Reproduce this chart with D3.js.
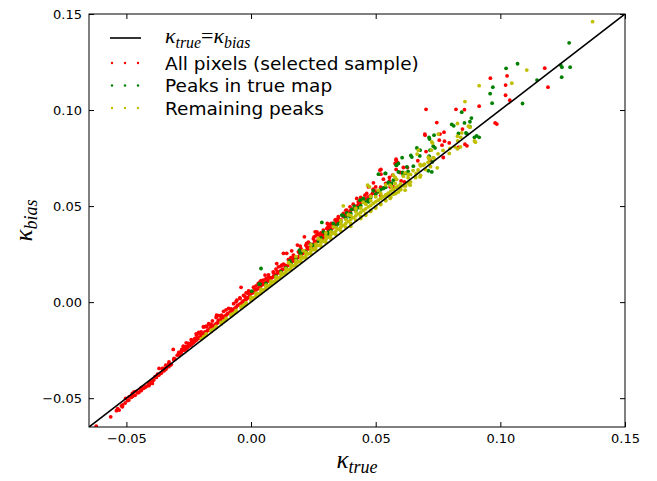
<!DOCTYPE html>
<html>
<head>
<meta charset="utf-8">
<script src="https://cdn.jsdelivr.net/npm/d3@7"></script>
<style>
  body { margin: 0; background: #fff; }
  text { font-family: "DejaVu Sans", sans-serif; }
</style>
</head>
<body>
<svg id="chart" width="657" height="481"></svg>
<script>
// data: [kappa_true, kappa_bias]
const redPoints = [
  [-0.0621,-0.0645],[-0.0563,-0.0597],[-0.0529,-0.0562],[-0.0516,-0.0545],[-0.0503,-0.0501],[-0.0489,-0.0493],
  [-0.0476,-0.0475],[-0.0469,-0.0467],[-0.0436,-0.0449],[-0.0422,-0.0441],[-0.0409,-0.0432],[-0.0396,-0.0423],
  [-0.0369,-0.0345],[-0.0309,-0.0293],[-0.0296,-0.0276],[-0.0282,-0.0259],[-0.0269,-0.0241],[-0.0256,-0.0233],
  [-0.054,-0.0565],[-0.052,-0.054],[-0.0505,-0.0525],[-0.049,-0.051],[-0.048,-0.0495],[-0.0465,-0.0485],
  [-0.045,-0.047],[-0.044,-0.046],[-0.043,-0.0448],[-0.042,-0.0437],[-0.041,-0.0425],[-0.040,-0.0415],
  [-0.039,-0.0405],[-0.038,-0.0392],[-0.037,-0.038],[-0.036,-0.037],[-0.035,-0.0358],[-0.034,-0.0347],
  [-0.033,-0.0336],[-0.032,-0.0325],[-0.046,-0.0465],[-0.044,-0.0445],[-0.0375,-0.0375],[-0.035,-0.0345],
  [-0.033,-0.032],[-0.031,-0.030],[-0.041,-0.0435],[-0.0395,-0.041],[-0.0385,-0.0388],
  [-0.0329,-0.0311],[-0.0342,-0.0328],[-0.0356,-0.0345],[-0.0250,-0.0215],[-0.0262,-0.0232],[-0.0275,-0.0248],[-0.029,-0.0262],
  [-0.0312,-0.0246],[-0.0278,-0.0246],[-0.0272,-0.0229],[-0.0238,-0.0207],[-0.0231,-0.0198],[-0.0225,-0.0189],
  [-0.0218,-0.0172],[-0.0205,-0.0163],[-0.0185,-0.0155],[-0.0191,-0.0129],[-0.0178,-0.0129],[-0.0164,-0.0120],
  [-0.0138,-0.0068],[-0.0131,-0.0094],[-0.0124,-0.0094],[-0.0111,-0.0085],[-0.0118,-0.0068],[-0.0057,0.0010],
  [-0.0044,0.0019],[-0.0024,0.0028],[-0.0011,0.0045],[-0.0004,0.0054],[-0.0040,0.0077],
  [-0.029,-0.0275],[-0.028,-0.0262],[-0.027,-0.025],[-0.026,-0.0243],[-0.025,-0.0228],[-0.024,-0.0222],
  [-0.023,-0.021],[-0.022,-0.0198],[-0.021,-0.0188],[-0.020,-0.0176],[-0.019,-0.0165],[-0.018,-0.0158],
  [-0.017,-0.0145],[-0.016,-0.0135],[-0.015,-0.0122],[-0.014,-0.0112],[-0.013,-0.0102],[-0.012,-0.009],
  [-0.011,-0.0078],[-0.010,-0.0068],[-0.009,-0.0058],[-0.008,-0.0048],[-0.007,-0.0038],[-0.006,-0.0027],
  [-0.005,-0.0016],[-0.004,-0.0006],[-0.003,0.0006],[-0.002,0.0014],[-0.001,0.0025],[-0.0255,-0.0235],
  [-0.0215,-0.019],[-0.0175,-0.0148],[-0.0135,-0.0108],[-0.0095,-0.006],[-0.0055,-0.0018],[-0.0015,0.002],
  [-0.0535,-0.0555],[-0.0515,-0.0535],[-0.0495,-0.0512],[-0.0475,-0.049],[-0.0455,-0.0472],[-0.0445,-0.0455],
  [-0.0425,-0.0442],[-0.0405,-0.0418],[-0.0365,-0.0372],[-0.0345,-0.0352],[-0.0325,-0.0328],[-0.0305,-0.0296],
  [-0.0285,-0.0270],[-0.0265,-0.0248],[-0.0245,-0.0226],[-0.0235,-0.0214],[-0.0225,-0.0203],[-0.0205,-0.0182],
  [-0.0195,-0.017],[-0.0185,-0.0162],[-0.0165,-0.0138],[-0.0155,-0.0128],[-0.0145,-0.0118],[-0.0125,-0.0098],
  [-0.0115,-0.0085],[-0.0105,-0.0073],[-0.0085,-0.0052],[-0.0075,-0.0042],[-0.0065,-0.0032],[-0.0045,-0.001],
  [-0.0035,0.0001],[-0.0025,0.0009],[-0.0005,0.0032],[-0.008,-0.0035],[-0.012,-0.0075],[-0.016,-0.0115],
  [-0.020,-0.0155],[-0.024,-0.0195],
  [-0.022,-0.0165],[-0.019,-0.0128],[-0.017,-0.0112],[-0.014,-0.008],[-0.011,-0.0048],[-0.009,-0.0032],
  [-0.006,0.0002],[-0.003,0.0035],[-0.001,0.0058],[0.001,0.0078],[0.004,0.0112],[0.007,0.0142],
  [0.010,0.0172],[0.012,0.0188],[0.015,0.0222],[0.017,0.0245],[0.020,0.0278],[0.023,0.0312],
  [0.026,0.0345],[0.029,0.0375],[0.032,0.0408],[0.035,0.0445],[0.038,0.0478],[0.041,0.051],[0.044,0.0545],
  [-0.026,-0.0212],[-0.021,-0.0158],[-0.018,-0.0125],[-0.0155,-0.0098],[-0.013,-0.007],[-0.010,-0.004],
  [-0.007,-0.0008],[-0.0045,0.0022],[-0.002,0.0048],
  [0.0029,0.0097],[0.0036,0.0106],[0.0049,0.0115],[0.0056,0.0141],[0.0069,0.0132],[0.0089,0.0158],
  [0.0103,0.0201],[0.0110,0.0184],[0.0123,0.0193],[0.0116,0.0158],[0.0130,0.0254],[0.0143,0.0254],
  [0.0163,0.0267],[0.0170,0.0236],[0.0176,0.0219],[0.0186,0.0297],[0.0197,0.0292],[0.0214,0.0340],
  [0.0223,0.0306],[0.0237,0.0300],[0.0243,0.0288],[0.0257,0.0366],[0.0266,0.0354],[0.0277,0.0340],
  [0.0290,0.0332],[0.0306,0.0410],[0.0317,0.0401],[0.0330,0.0392],[0.0344,0.0418],[0.0350,0.0436],
  [0.000,0.0045],[0.001,0.0052],[0.002,0.0063],[0.003,0.0072],[0.004,0.0085],[0.005,0.0092],
  [0.006,0.0104],[0.007,0.0112],[0.008,0.0125],[0.009,0.0134],[0.010,0.0145],[0.011,0.0152],
  [0.012,0.0165],[0.013,0.0172],[0.014,0.0186],[0.015,0.0193],[0.016,0.0205],[0.017,0.0214],
  [0.018,0.0226],[0.019,0.0235],[0.020,0.0248],[0.021,0.0256],[0.022,0.0267],[0.023,0.0278],
  [0.024,0.0291],[0.025,0.0302],[0.026,0.0312],[0.027,0.0325],[0.028,0.0334],[0.029,0.0348],
  [0.030,0.0356],[0.031,0.0368],[0.032,0.0379],[0.033,0.0392],[0.034,0.0401],[0.035,0.0414],
  [0.0015,0.0068],[0.0045,0.0098],[0.0075,0.0128],[0.0105,0.016],[0.0135,0.0192],[0.0165,0.0222],
  [0.0195,0.0254],[0.0225,0.0285],[0.0255,0.0318],[0.0285,0.035],[0.0315,0.0382],
  [0.0005,0.0048],[0.0025,0.0068],[0.0035,0.0078],[0.0055,0.0098],[0.0065,0.0108],[0.0085,0.0128],
  [0.0095,0.0138],[0.0115,0.0158],[0.0125,0.0168],[0.0145,0.019],[0.0155,0.0198],[0.0175,0.0222],
  [0.0185,0.023],[0.0205,0.0252],[0.0215,0.0262],[0.0235,0.0283],[0.0245,0.0294],[0.0265,0.0316],
  [0.0275,0.0328],[0.0295,0.035],[0.0305,0.036],[0.0325,0.0385],[0.0335,0.0395],[0.0345,0.041],
  [0.0355,0.042],[0.002,0.0085],[0.006,0.0122],[0.009,0.0152],[0.013,0.0198],[0.016,0.0232],
  [0.019,0.0262],[0.022,0.0296],[0.025,0.033],[0.028,0.036],[0.031,0.0395],[0.034,0.043],
  [0.0253,0.0340],[0.0264,0.0366],[0.0270,0.0354],[0.0297,0.0361],[0.0304,0.0384],[0.0324,0.0410],
  [0.0337,0.0427],[0.0350,0.0418],[0.0370,0.0462],[0.0384,0.0479],[0.0397,0.0496],[0.0424,0.0540],
  [0.0430,0.0522],[0.0457,0.0557],[0.0464,0.0566],[0.0471,0.0600],[0.0487,0.0566],[0.0491,0.0621],
  [0.0500,0.0600],[0.0508,0.0574],[0.0517,0.0687],[0.0520,0.0557],[0.0521,0.0666],[0.0531,0.0640],
  [0.0568,0.0661],[0.0578,0.0722],[0.0582,0.0691],[0.0521,0.0691],
  [0.036,0.0428],[0.038,0.0452],[0.040,0.0478],[0.042,0.0498],[0.044,0.052],[0.046,0.0538],
  [0.048,0.0556],[0.037,0.0445],[0.041,0.0485],[0.045,0.0530],[0.039,0.0466],[0.043,0.0508],
  [0.047,0.0548],[0.050,0.0578],[0.052,0.0598],[0.054,0.0618],[0.049,0.0588],
  [0.0528,0.0592],[0.0558,0.0600],[0.0555,0.0649],[0.0555,0.0631],[0.0571,0.0600],[0.0598,0.0675],
  [0.0602,0.0631],[0.0615,0.0626],[0.0582,0.0744],[0.0588,0.0727],[0.0611,0.0701],[0.0627,0.0701],
  [0.0669,0.0736],[0.0697,0.0875],[0.0718,0.0739],[0.0745,0.0935],[0.0755,0.0843],[0.0766,0.0817],
  [0.0771,0.0753],[0.0774,0.0885],[0.0795,0.0829],[0.0832,0.0805],[0.0848,0.0901],[0.0858,0.0822],
  [0.0979,0.0933],[0.1178,0.1218],[0.1191,0.1119],[0.1027,0.1178],[0.1021,0.1130],[0.1021,0.1077],
  [0.1038,0.1051],[0.0960,0.1166],[0.0915,0.1020],[0.0702,0.1004],[0.0822,0.1004],[0.0856,0.1002],
  [0.0986,0.0927],[0.0698,0.0869],[0.0758,0.0875],[0.0866,0.0814],[0.0776,0.0838],[0.0702,0.0784],
  [0.0582,0.0739]
];

const greenPoints = [
  [0.1276,0.1350],[0.1247,0.1223],[0.1280,0.1223],[0.1246,0.1171],[0.1147,0.1156],[0.1089,0.1034],
  [0.1069,0.1241],[0.1023,0.1217],[0.0970,0.1119],[0.0959,0.1085],[0.0967,0.1036],[0.0845,0.0989],
  [0.0884,0.0958],[0.0813,0.0918],[0.0716,0.0849],[0.0606,0.0752],[0.0896,0.0858],[0.0915,0.0858],
  [0.0866,0.0876],[0.0738,0.0803],[0.0645,0.0755],[0.0677,0.0761],[0.1242,0.1234],
  [0.0805,0.0925],[0.0856,0.0933],[0.0878,0.0939],[0.0878,0.0913],[0.0734,0.0869],[0.0714,0.0857],
  [0.0832,0.0878],[0.0862,0.0881],[0.0905,0.0866],[0.0665,0.0803],[0.0678,0.0791],[0.0731,0.0812],
  [0.0718,0.0791],[0.0641,0.0764],[0.0714,0.0760],[0.0727,0.0730],[0.0651,0.0708],[0.0582,0.0713],
  [0.0591,0.0722],[0.0540,0.0670],[0.0551,0.0623],[0.0533,0.0595],[0.0711,0.0684],[0.0725,0.0678],
  [0.0608,0.0675],[0.0622,0.0670],
  [0.0511,0.0666],[0.0538,0.0670],[0.0591,0.0678],[0.0584,0.0713],[0.0625,0.0704],[0.0564,0.0618],
  [0.0571,0.0635],[0.0437,0.0531],[0.0450,0.0540],[0.0471,0.0522],[0.0284,0.0415],[0.0364,0.0453],
  [0.0384,0.0465],[0.0397,0.0444],[0.0404,0.0483],[0.0414,0.0500],[0.0290,0.0366],[0.0310,0.0349],
  [0.0040,0.0175],[0.0194,0.0271],[0.0197,0.0257],[0.0036,0.0094],[0.0003,0.0057],[0.0032,0.0094],
  [0.010,0.0135],[0.014,0.0178],[0.018,0.0222],[0.022,0.0262],[0.025,0.0296],[0.027,0.0318],
  [0.030,0.0352],[0.032,0.0372],[0.034,0.0395],[0.036,0.0418],[0.038,0.0437],[0.040,0.0462],
  [0.042,0.0478],[0.044,0.0502],[0.046,0.052],[0.048,0.0545],[0.050,0.0562],[0.052,0.0585],
  [0.054,0.0598],[0.056,0.0612],[0.033,0.041],[0.037,0.045],[0.045,0.0535],[0.049,0.058],
  [0.024,0.030],[0.020,0.0255],[0.0155,0.0215],[0.006,0.0098],
  [0.012,0.0158],[0.016,0.0202],[0.028,0.0335],[0.031,0.0365],[0.035,0.0408],[0.039,0.0452],
  [0.043,0.0492],[0.047,0.0532],[0.051,0.0575],[0.053,0.0592],[0.055,0.062],[0.058,0.064],
  [0.061,0.0665],[0.063,0.068]
];

const yellowPoints = [
  [0.137,0.146],[0.1106,0.1208],[0.1046,0.1140],[0.0915,0.1127],[0.0858,0.1044],[0.0878,0.0911],
  [0.0900,0.0833],[0.0728,0.0828],[0.0723,0.0791],[0.0828,0.0798],[0.0840,0.0808],[0.0666,0.0771],
  [0.0715,0.0744],[0.0734,0.0750],[0.0841,0.0858],[0.0829,0.0840],
  [0.0828,0.0930],[0.0872,0.0916],[0.0751,0.0875],[0.0828,0.0864],[0.0845,0.0881],[0.0725,0.0834],
  [0.0795,0.0774],[0.0798,0.0800],[0.0818,0.0808],[0.0896,0.0840],[0.0671,0.0791],[0.0711,0.0753],
  [0.0695,0.0718],[0.0678,0.0717],[0.0747,0.0699],[0.0631,0.0665],[0.0662,0.0670],[0.0678,0.0652],
  [0.0571,0.0661],[0.0578,0.0649],[0.0584,0.0639],[0.0611,0.0605],[0.0618,0.0583],[0.0638,0.0609],
  [0.0524,0.0548],[0.0544,0.0552],[0.0558,0.0540],[0.0571,0.0562],[0.0591,0.0574],[0.0598,0.0592],
  [0.0468,0.0609],[0.0475,0.0600],[0.0370,0.0501],[0.0558,0.0609],[0.0564,0.0600],[0.0578,0.0618],
  [0.0611,0.0656],[0.0618,0.0673],
  [0.064,0.0665],[0.067,0.0688],[0.069,0.0712],[0.071,0.0728],[0.073,0.0752],[0.075,0.0772],
  [0.077,0.079],[0.065,0.0685],[0.068,0.071],
  [0.040,0.0395],[0.044,0.0435],[0.048,0.0472],[0.052,0.0508],[0.056,0.0545],[0.060,0.0585],
  [0.064,0.0625],[0.068,0.066],[0.072,0.0705],[0.046,0.0452],[0.050,0.049],[0.054,0.0528],
  [0.058,0.0565],[0.062,0.0605],[0.066,0.0648],[0.070,0.0690],
  [0.015,0.0205],[0.018,0.0237],[0.021,0.0268],[0.024,0.0298],[0.027,0.033],[0.030,0.036],
  [0.033,0.0392],[0.036,0.0425],[0.039,0.0455],[0.042,0.0488],[0.045,0.052],[0.048,0.055],
  [0.051,0.0582],[0.054,0.061],
  [-0.020,-0.0192],[-0.018,-0.0172],[-0.018,-0.0165],[-0.016,-0.0152],[-0.016,-0.0146],
  [-0.014,-0.0133],[-0.014,-0.0126],[-0.012,-0.0112],[-0.012,-0.0105],[-0.010,-0.0092],[-0.010,-0.0084],
  [-0.008,-0.0072],[-0.008,-0.0064],[-0.006,-0.0051],[-0.006,-0.0043],[-0.004,-0.0031],[-0.004,-0.0022],
  [-0.002,-0.0011],[-0.002,-0.0003],
  [0.000,0.0009],[0.000,0.0018],[0.000,0.0026],[0.002,0.0029],[0.002,0.0038],[0.002,0.0047],
  [0.004,0.0049],[0.004,0.0058],[0.004,0.0068],[0.006,0.0069],[0.006,0.0079],[0.006,0.0088],
  [0.008,0.0090],[0.008,0.0099],[0.008,0.0109],[0.010,0.0110],[0.010,0.0120],[0.010,0.0131],
  [0.012,0.0130],[0.012,0.0141],[0.012,0.0152],[0.014,0.0151],[0.014,0.0162],[0.014,0.0174],
  [0.016,0.0171],[0.016,0.0183],[0.016,0.0195],[0.018,0.0191],[0.018,0.0203],[0.018,0.0216],
  [0.020,0.0211],[0.020,0.0224],[0.020,0.0238],[0.022,0.0232],[0.022,0.0245],[0.022,0.0259],
  [0.024,0.0252],[0.024,0.0266],[0.024,0.0281],[0.026,0.0272],[0.026,0.0287],[0.026,0.0302],
  [0.028,0.0292],[0.028,0.0308],[0.028,0.0323],[0.030,0.0312],[0.030,0.0328],[0.030,0.0344],
  [0.032,0.0332],[0.032,0.0349],[0.032,0.0366],[0.034,0.0352],[0.034,0.0370],[0.034,0.0388],
  [0.036,0.0371],[0.036,0.0390],[0.036,0.0408],[0.038,0.0390],[0.038,0.0410],[0.038,0.0430],
  [0.040,0.0408],[0.040,0.0430],[0.040,0.0451],[0.042,0.0427],[0.042,0.0449],[0.042,0.0470],
  [0.044,0.0446],[0.044,0.0468],[0.044,0.0490],[0.046,0.0462],[0.046,0.0486],[0.046,0.0510],
  [0.048,0.0478],[0.048,0.0503],[0.048,0.0528],[0.050,0.0495],[0.050,0.0522],[0.050,0.0548],
  [0.052,0.0512],[0.052,0.0540],[0.052,0.0566],[0.054,0.0530],[0.054,0.0558],[0.056,0.0548],
  [0.056,0.0578],[0.058,0.0566],[0.058,0.0597],[0.060,0.0588],[0.060,0.0615],[0.063,0.0620],
  [0.063,0.0648],[0.066,0.0652],
  [-0.019,-0.0180],[-0.015,-0.0140],[-0.011,-0.0098],[-0.007,-0.0058],[-0.003,-0.0016],
  [0.001,0.0022],[0.003,0.0043],[0.005,0.0064],[0.007,0.0084],[0.009,0.0105],[0.011,0.0126],
  [0.013,0.0147],[0.015,0.0168],[0.017,0.0189],[0.019,0.0210],[0.021,0.0231],[0.023,0.0252],
  [0.025,0.0274],[0.027,0.0296],[0.029,0.0317],[0.031,0.0338],[0.033,0.0360],[0.035,0.0380],
  [0.037,0.0400],[0.039,0.0420],[0.041,0.0440],[0.043,0.0459],[0.045,0.0478],[0.047,0.0496],
  [0.049,0.0514],[0.051,0.0531],[0.053,0.0548],[0.055,0.0567],[0.057,0.0586],[0.059,0.0604]
];

const xTicks = [-0.05, 0.00, 0.05, 0.10, 0.15];
const yTicks = [-0.05, 0.00, 0.05, 0.10, 0.15];
const legendLabels = ["All pixels (selected sample)", "Peaks in true map", "Remaining peaks"];
const seriesColors = ["#ff0000", "#008000", "#bfbf00"];

const margin = { top: 14, right: 32, bottom: 54, left: 89 };
const width = 657 - margin.left - margin.right;
const height = 481 - margin.top - margin.bottom;

const svg = d3.select("#chart");
const plot = svg.append("g")
  .attr("transform", "translate(" + margin.left + "," + margin.top + ")");

const x = d3.scaleLinear().domain([-0.065, 0.15]).range([0, width]);
const y = d3.scaleLinear().domain([-0.065, 0.15]).range([height, 0]);
const fmt = d3.format(".2f");

plot.append("clipPath").attr("id", "clip")
  .append("rect").attr("width", width).attr("height", height);

// scatter series, red first then green then yellow
const series = [redPoints, greenPoints, yellowPoints];
const dots = plot.append("g").attr("clip-path", "url(#clip)");
series.forEach(function(pts, i) {
  dots.append("g")
    .selectAll("circle")
    .data(pts)
    .enter()
    .append("circle")
    .attr("cx", d => x(d[0]))
    .attr("cy", d => y(d[1]))
    .attr("r", 1.9)
    .style("fill", seriesColors[i]);
});

// one-to-one line
plot.append("line")
  .attr("clip-path", "url(#clip)")
  .attr("x1", x(-0.065)).attr("y1", y(-0.065))
  .attr("x2", x(0.15)).attr("y2", y(0.15))
  .style("stroke", "#000").style("stroke-width", 1.6);

// axes, ticks pointing in
const axisStyle = g => {
  g.select(".domain").remove();
  g.selectAll("line").style("stroke", "#000");
  g.selectAll("text").style("font-size", "13px").style("fill", "#000")
    .style("font-family", "DejaVu Sans, sans-serif");
};
plot.append("g").attr("transform", "translate(0," + height + ")")
  .call(d3.axisBottom(x).tickValues(xTicks).tickFormat(fmt).tickSizeInner(-5).tickSizeOuter(0).tickPadding(7))
  .call(axisStyle);
plot.append("g")
  .call(d3.axisLeft(y).tickValues(yTicks).tickFormat(fmt).tickSizeInner(-5).tickSizeOuter(0).tickPadding(7))
  .call(axisStyle);
plot.append("g")
  .call(d3.axisTop(x).tickValues(xTicks).tickFormat("").tickSizeInner(-5).tickSizeOuter(0))
  .call(axisStyle);
plot.append("g").attr("transform", "translate(" + width + ",0)")
  .call(d3.axisRight(y).tickValues(yTicks).tickFormat("").tickSizeInner(-5).tickSizeOuter(0))
  .call(axisStyle);

plot.append("rect")
  .attr("width", width).attr("height", height)
  .style("fill", "none").style("stroke", "#000").style("stroke-width", 1);

// math style label helper: kappa with a subscript
function kappa(sel, sub) {
  sel.append("tspan").text("κ");
  sel.append("tspan").attr("dy", 5).style("font-size", "0.72em").text(sub);
}
const mathFont = "Liberation Serif, serif";

const xLabel = svg.append("text")
  .attr("x", margin.left + width / 2).attr("y", 468)
  .attr("text-anchor", "middle")
  .style("font-family", mathFont).style("font-style", "italic").style("font-size", "25px");
kappa(xLabel, "true");

const yLabel = svg.append("text")
  .attr("transform", "translate(32," + (margin.top + height / 2) + ") rotate(-90)")
  .attr("text-anchor", "middle")
  .style("font-family", mathFont).style("font-style", "italic").style("font-size", "25px");
kappa(yLabel, "bias");

// legend
const legend = svg.append("g");
legend.append("line")
  .attr("x1", 110).attr("x2", 141).attr("y1", 38).attr("y2", 38)
  .style("stroke", "#000").style("stroke-width", 1.6);
const lineLabel = legend.append("text")
  .attr("x", 165).attr("y", 43)
  .style("font-family", mathFont).style("font-style", "italic").style("font-size", "22px");
kappa(lineLabel, "true");
lineLabel.append("tspan").attr("dy", -5).style("font-style", "normal").text("=");
kappa(lineLabel, "bias");

legendLabels.forEach(function(label, i) {
  const yy = 63 + i * 22.5;
  [112, 125, 138].forEach(function(xx) {
    legend.append("circle").attr("cx", xx).attr("cy", yy).attr("r", 1.2)
      .style("fill", seriesColors[i]);
  });
  legend.append("text")
    .attr("x", 165).attr("y", yy + 6.5)
    .style("font-size", "18.5px").style("fill", "#000")
    .text(label);
});
</script>
</body>
</html>
